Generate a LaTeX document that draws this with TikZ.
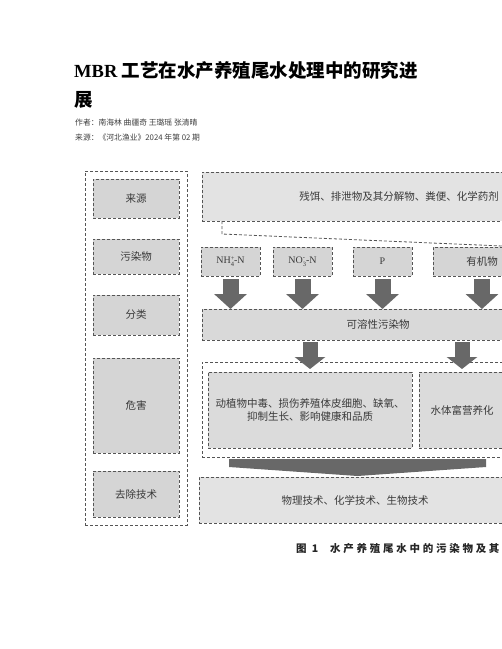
\documentclass[tikz,border=0pt]{standalone}
\usepackage{fontspec}
\setmainfont{Liberation Serif}
\newfontfamily\cjk{Noto Sans CJK SC}
\newfontfamily\cjkcap{Noto Sans CJK SC}[LetterSpace=26]
\usetikzlibrary{arrows.meta,calc}
\definecolor{bord}{HTML}{555555}
\definecolor{fillA}{HTML}{D5D5D5}
\definecolor{fillB}{HTML}{E3E3E3}
\definecolor{arr}{HTML}{686868}
\definecolor{txt}{HTML}{3A3A3A}
\newcommand{\supsub}[2]{\rlap{\raisebox{3.8pt}{\fontsize{6.5}{7}\selectfont #1}}\raisebox{-2.6pt}{\fontsize{6.5}{7}\selectfont #2}}
\tikzset{
  dline/.style={draw=bord, dash pattern=on 3pt off 2pt, line width=0.8pt},
  box/.style={dline, inner sep=0pt, outer sep=0pt, text=txt, align=center,
              font=\fontsize{10.5}{13}\selectfont\cjk},
  lbox/.style={box, fill=fillA, minimum width=86pt},
  pbox/.style={box, fill=fillA, minimum height=29pt,
               font=\fontsize{10}{12}\selectfont},
  bigarrow/.style={draw=arr, line width=16pt, -{Triangle[width=32pt,length=15pt]}},
  midarrow/.style={draw=arr, line width=15pt, -{Triangle[width=30pt,length=12pt]}},
  hdr/.style={anchor=west, inner sep=0pt, text=black},
}
\begin{document}
\begin{tikzpicture}[x=1pt,y=-1pt]
\useasboundingbox (0,0) rectangle (502,649);
\clip (0,0) rectangle (502,649);
\fill[white] (0,0) rectangle (502,649);

% header
\node[hdr] (title1) at (74,70) {\fontsize{18.5}{22}\selectfont\bfseries MBR \cjk 工艺在水产养殖尾水处理中的研究进};
\node[hdr] (title2) at (74,100) {\fontsize{18.5}{22}\selectfont\cjk\bfseries 展};
\node[hdr, text=black!75] (auth) at (75,123) {\fontsize{7.8}{9}\selectfont\cjk 作者：南海林 曲疆奇 王璐瑶 张清晴};
\node[hdr, text=black!75] (srcline) at (75,138) {\fontsize{7.8}{9}\selectfont\cjk 来源：《河北渔业》2024 年第 02 期};

% left column
\node[dline, minimum width=102pt, minimum height=354pt, inner sep=0pt] (leftcol) at (136,348) {};
\node[lbox, minimum height=39pt] (l1) at (136,198.5) {来源};
\node[lbox, minimum height=35pt] (l2) at (136,256.5) {污染物};
\node[lbox, minimum height=40pt] (l3) at (136,315) {分类};
\node[lbox, minimum height=95pt] (l4) at (136,405.5) {危害};
\node[lbox, minimum height=46pt] (l5) at (136,494) {去除技术};

% sources
\node[box, fill=fillB, minimum width=394pt, minimum height=49pt, text depth=-4pt] (srcbox) at (399,196.5) {残饵、排泄物及其分解物、粪便、化学药剂};
\draw[dline] ([xshift=20pt]srcbox.south west) -- ++(0,13) -- (502,246);

% pollutants
\node[pbox, minimum width=59pt] (nh) at (230.5,261.5) {NH\supsub{+}{4}-N};
\node[pbox, minimum width=59pt] (no) at (302.5,261.5) {NO\supsub{-}{3}-N};
\node[pbox, minimum width=59pt] (pp) at (382.5,261.5) {P};
\node[pbox, minimum width=98pt, font=\fontsize{10.5}{13}\selectfont\cjk] (org) at (482,261.5) {有机物};

% soluble
\node[box, fill=fillA!70!fillB, minimum width=352pt, minimum height=31pt] (sol) at (378,324.5) {可溶性污染物};

\draw[bigarrow] ([yshift=-3pt]nh.south) -- (nh.south |- sol.north);
\draw[bigarrow] ([yshift=-3pt]no.south) -- (no.south |- sol.north);
\draw[bigarrow] ([yshift=-3pt]pp.south) -- (pp.south |- sol.north);
\draw[bigarrow] ([yshift=-3pt]org.south) -- (org.south |- sol.north);

% harm
\node[dline, minimum width=308pt, minimum height=95pt, inner sep=0pt] (harm) at (356,409.5) {};
\node[box, fill=fillA!60!fillB, minimum width=204pt, minimum height=76pt] (h1) at (310,410) {动植物中毒、损伤养殖体皮细胞、缺氧、\\抑制生长、影响健康和品质};
\node[box, fill=fillA!60!fillB, minimum width=86pt, minimum height=76pt] (h2) at (462,410) {水体富营养化};

\draw[midarrow] ([yshift=-2pt]sol.south -| h1.north) -- ([yshift=3pt]h1.north);
\draw[midarrow] ([yshift=-2pt]sol.south -| h2.north) -- ([yshift=3pt]h2.north);

% removal
\node[box, fill=fillB, minimum width=312pt, minimum height=46pt] (rem) at (355,500) {物理技术、化学技术、生物技术};
\fill[arr] (229,459) -- (486,459) -- (486,467) -- (357.5,476) -- (229,467) -- cycle;
\coordinate (chev) at (357.5,476);

% caption
\node[hdr, text=black!85] (cap) at (296,549) {\fontsize{10.5}{12}\selectfont\cjkcap\bfseries 图 1\hspace{12pt}水产养殖尾水中的污染物及其};
\end{tikzpicture}
\end{document}
